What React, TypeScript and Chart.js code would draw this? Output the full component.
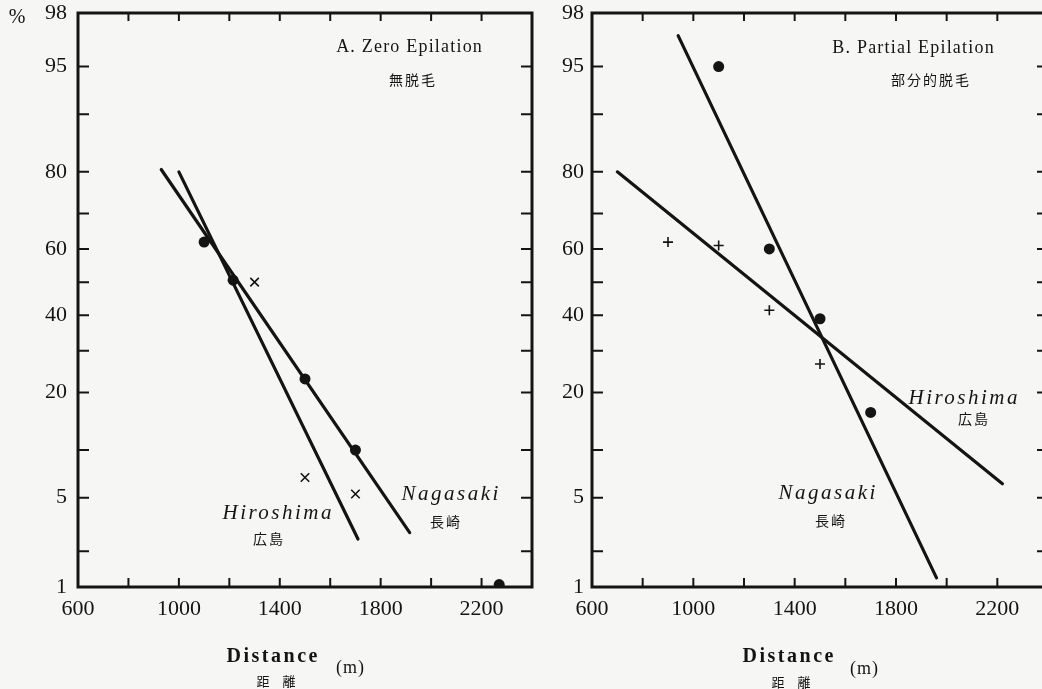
import React, { useEffect, useRef } from 'react';
import { Chart, registerables } from 'chart.js';

Chart.register(...registerables);

// ---------- axis definitions ----------
const yTickPercents = [1, 2, 5, 10, 20, 30, 40, 50, 60, 70, 80, 90, 95, 98];
const yLabelPercents = [1, 5, 20, 40, 60, 80, 95, 98];
const xLabelValues = [600, 1000, 1400, 1800, 2200];
const xMin = 600;
const xMax = 2400;

// ---------- Panel A: Zero Epilation ----------
const zeroHiroshimaLineX = [1000, 1710];
const zeroHiroshimaLineP = [80, 2.5];
const zeroNagasakiLineX = [930, 1915];
const zeroNagasakiLineP = [80.5, 2.8];
const zeroNagasakiPointX = [1100, 1215, 1500, 1700, 2270];
const zeroNagasakiPointP = [62, 50.6, 23, 10, 1.05];
const zeroHiroshimaPointX = [1300, 1500, 1700];
const zeroHiroshimaPointP = [50, 6.8, 5.3];

// ---------- Panel B: Partial Epilation ----------
const partialNagasakiLineX = [940, 1960];
const partialNagasakiLineP = [97, 1.2];
const partialHiroshimaLineX = [700, 2220];
const partialHiroshimaLineP = [80, 6.2];
const partialNagasakiPointX = [1100, 1300, 1500, 1700];
const partialNagasakiPointP = [95, 60, 39, 16];
const partialHiroshimaPointX = [900, 1100, 1300, 1500];
const partialHiroshimaPointP = [62, 61, 41.5, 26.6];

const INK = '#141414';
const BG = '#f6f6f4';
const SERIF = '"Liberation Serif", "DejaVu Serif", serif';
const CJK = '"Noto Sans CJK JP", sans-serif';

// inverse of the standard normal CDF (probability-paper scale)
function probit(p: number): number {
  const a = [-3.969683028665376e1, 2.209460984245205e2, -2.759285104469687e2, 1.38357751867269e2, -3.066479806614716e1, 2.506628277459239];
  const b = [-5.447609879822406e1, 1.615858368580409e2, -1.556989798598866e2, 6.680131188771972e1, -1.328068155288572e1];
  const c = [-7.784894002430293e-3, -3.223964580411365e-1, -2.400758277161838, -2.549732539343734, 4.374664141464968, 2.938163982698783];
  const d = [7.784695709041462e-3, 3.224671290700398e-1, 2.445134137142996, 3.754408661907416];
  const pl = 0.02425;
  if (p < pl) {
    const q = Math.sqrt(-2 * Math.log(p));
    return (((((c[0] * q + c[1]) * q + c[2]) * q + c[3]) * q + c[4]) * q + c[5]) / ((((d[0] * q + d[1]) * q + d[2]) * q + d[3]) * q + 1);
  }
  if (p <= 1 - pl) {
    const q = p - 0.5;
    const r = q * q;
    return ((((((a[0] * r + a[1]) * r + a[2]) * r + a[3]) * r + a[4]) * r + a[5]) * q) / (((((b[0] * r + b[1]) * r + b[2]) * r + b[3]) * r + b[4]) * r + 1);
  }
  const q = Math.sqrt(-2 * Math.log(1 - p));
  return -(((((c[0] * q + c[1]) * q + c[2]) * q + c[3]) * q + c[4]) * q + c[5]) / ((((d[0] * q + d[1]) * q + d[2]) * q + d[3]) * q + 1);
}
const z = (pct: number) => probit(pct / 100);
const pts = (xs: number[], ps: number[]) => xs.map((x, i) => ({ x, y: z(ps[i]) }));

type TextItem = { text: string; x: number; y: number; font: string; spacing?: number };

function lineDs(xs: number[], ps: number[]) {
  return {
    data: pts(xs, ps),
    showLine: true,
    borderColor: INK,
    borderWidth: 3.2,
    pointRadius: 0,
    borderCapStyle: 'round',
  };
}
function dotDs(xs: number[], ps: number[], r: number) {
  return {
    data: pts(xs, ps),
    showLine: false,
    pointStyle: 'circle',
    pointRadius: r,
    backgroundColor: INK,
    borderColor: INK,
    borderWidth: 0,
  };
}
function markDs(xs: number[], ps: number[], style: string, r: number) {
  return {
    data: pts(xs, ps),
    showLine: false,
    pointStyle: style,
    pointRadius: r,
    backgroundColor: INK,
    borderColor: INK,
    borderWidth: 1.6,
  };
}

function makeFramePlugin(texts: TextItem[]) {
  return {
    id: 'frame',
    afterDatasetsDraw(chart: any) {
      const { ctx, chartArea } = chart;
      const { left, right, top, bottom } = chartArea;
      const xs = chart.scales.x;
      const ys = chart.scales.y;
      ctx.save();
      ctx.strokeStyle = INK;
      ctx.lineWidth = 2;
      ctx.beginPath();
      ys.ticks.forEach((t: any) => {
        const py = ys.getPixelForValue(t.value);
        if (py <= top + 2 || py >= bottom - 2) return;
        ctx.moveTo(left, py);
        ctx.lineTo(left + 11, py);
        ctx.moveTo(right, py);
        ctx.lineTo(right - 11, py);
      });
      xs.ticks.forEach((t: any) => {
        const px = xs.getPixelForValue(t.value);
        if (px <= left + 2 || px >= right - 2) return;
        ctx.moveTo(px, bottom);
        ctx.lineTo(px, bottom - 9);
        ctx.moveTo(px, top);
        ctx.lineTo(px, top + 8);
      });
      ctx.stroke();
      ctx.lineWidth = 3;
      ctx.strokeRect(left, top, right - left, bottom - top);

      ctx.fillStyle = INK;
      ctx.textAlign = 'center';
      ctx.textBaseline = 'middle';
      texts.forEach((t) => {
        ctx.font = t.font;
        (ctx as any).letterSpacing = `${t.spacing ?? 0}px`;
        ctx.fillText(t.text, t.x + (t.spacing ?? 0) / 2, t.y);
      });
      (ctx as any).letterSpacing = '0px';
      ctx.restore();
    },
  };
}

function makeOptions(yWidth: number, xHeight: number, padRight: number, labelPad: number) {
  return {
    responsive: false,
    animation: false,
    events: [],
    layout: { padding: { left: 0, right: padRight, top: 13, bottom: 0 } },
    plugins: { legend: { display: false }, tooltip: { enabled: false }, title: { display: false } },
    scales: {
      x: {
        type: 'linear',
        min: xMin,
        max: xMax,
        grid: { display: false, drawTicks: false },
        border: { display: false },
        afterFit: (s: any) => {
          s.height = xHeight;
        },
        ticks: {
          stepSize: 200,
          autoSkip: false,
          maxRotation: 0,
          padding: 9,
          color: INK,
          font: { family: SERIF, size: 22 },
          callback: (v: number) => (xLabelValues.includes(Math.round(v)) ? String(Math.round(v)) : ''),
        },
      },
      y: {
        type: 'linear',
        min: z(1),
        max: z(98),
        grid: { display: false, drawTicks: false },
        border: { display: false },
        afterFit: (s: any) => {
          s.width = yWidth;
        },
        afterBuildTicks: (s: any) => {
          s.ticks = yTickPercents.map((p) => ({ value: z(p) }));
        },
        ticks: {
          autoSkip: false,
          padding: labelPad,
          color: INK,
          font: { family: SERIF, size: 22, lineHeight: 0.1 },
          callback: (_v: number, i: number) => {
            const p = yTickPercents[i];
            return yLabelPercents.includes(p) ? String(p) : '';
          },
        },
      },
    },
  };
}

function Panel(props: { left: number; width: number; datasets: any[]; texts: TextItem[]; yWidth: number; padRight: number; labelPad: number }) {
  const ref = useRef<HTMLCanvasElement | null>(null);
  useEffect(() => {
    if (!ref.current) return;
    const chart = new Chart(ref.current, {
      type: 'scatter',
      data: { datasets: props.datasets },
      options: makeOptions(props.yWidth, 102, props.padRight, props.labelPad) as any,
      plugins: [makeFramePlugin(props.texts)],
    } as any);
    return () => chart.destroy();
  }, []);
  return (
    <canvas
      ref={ref}
      width={props.width}
      height={689}
      style={{ position: 'absolute', left: props.left, top: 0, width: props.width, height: 689 }}
    />
  );
}

export default function App() {
  const datasetsA = [
    lineDs(zeroHiroshimaLineX, zeroHiroshimaLineP),
    lineDs(zeroNagasakiLineX, zeroNagasakiLineP),
    dotDs(zeroNagasakiPointX, zeroNagasakiPointP, 5.5),
    markDs(zeroHiroshimaPointX, zeroHiroshimaPointP, 'crossRot', 6),
  ];
  const datasetsB = [
    lineDs(partialNagasakiLineX, partialNagasakiLineP),
    lineDs(partialHiroshimaLineX, partialHiroshimaLineP),
    dotDs(partialNagasakiPointX, partialNagasakiPointP, 5.5),
    markDs(partialHiroshimaPointX, partialHiroshimaPointP, 'cross', 5),
  ];
  const textsA: TextItem[] = [
    { text: '%', x: 17, y: 18, font: `20px ${SERIF}` },
    { text: 'A. Zero Epilation', x: 409, y: 47, font: `18px ${SERIF}`, spacing: 1.2 },
    { text: '無脱毛', x: 412, y: 80, font: `14px ${CJK}`, spacing: 2 },
    { text: 'Hiroshima', x: 277, y: 513, font: `italic 21px ${SERIF}`, spacing: 2.5 },
    { text: '広島', x: 268, y: 539, font: `14px ${CJK}`, spacing: 2 },
    { text: 'Nagasaki', x: 450, y: 494, font: `italic 21px ${SERIF}`, spacing: 2.5 },
    { text: '長崎', x: 445, y: 522, font: `14px ${CJK}`, spacing: 2 },
    { text: 'Distance', x: 272, y: 657, font: `bold 20px ${SERIF}`, spacing: 2.5 },
    { text: '(m)', x: 350, y: 668, font: `18px ${SERIF}`, spacing: 1 },
    { text: '距　離', x: 276, y: 681, font: `13px ${CJK}` },
  ];
  const off = 540;
  const textsB: TextItem[] = [
    { text: 'B. Partial Epilation', x: 913 - off, y: 48, font: `18px ${SERIF}`, spacing: 1.2 },
    { text: '部分的脱毛', x: 930 - off, y: 80, font: `14px ${CJK}`, spacing: 2 },
    { text: 'Hiroshima', x: 963 - off, y: 398, font: `italic 21px ${SERIF}`, spacing: 2.5 },
    { text: '広島', x: 973 - off, y: 419, font: `14px ${CJK}`, spacing: 2 },
    { text: 'Nagasaki', x: 827 - off, y: 493, font: `italic 21px ${SERIF}`, spacing: 2.5 },
    { text: '長崎', x: 830 - off, y: 521, font: `14px ${CJK}`, spacing: 2 },
    { text: 'Distance', x: 788 - off, y: 657, font: `bold 20px ${SERIF}`, spacing: 2.5 },
    { text: '(m)', x: 864 - off, y: 669, font: `18px ${SERIF}`, spacing: 1 },
    { text: '距　離', x: 791 - off, y: 682, font: `13px ${CJK}` },
  ];
  return (
    <div style={{ position: 'absolute', left: 0, top: 0, width: 1042, height: 689, overflow: 'hidden', background: BG }}>
      <Panel left={0} width={560} datasets={datasetsA} texts={textsA} yWidth={78} padRight={28} labelPad={11} />
      <Panel left={off} width={520} datasets={datasetsB} texts={textsB} yWidth={52} padRight={12} labelPad={8} />
    </div>
  );
}
